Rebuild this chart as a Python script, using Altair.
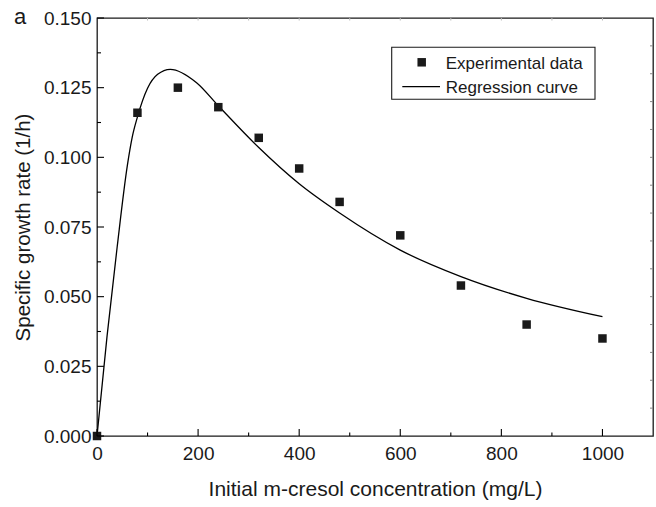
import altair as alt
import pandas as pd

# ---- data ----
conc = [0, 80, 160, 240, 320, 400, 480, 600, 720, 850, 1000]
rate = [0.0, 0.116, 0.125, 0.118, 0.107, 0.096, 0.084, 0.072, 0.054, 0.040, 0.035]

curve_x = [0, 20, 40, 60, 70, 80, 100, 120, 145, 197, 240, 320, 400, 480,
           600, 720, 850, 1000]
curve_y = [0.0, 0.036, 0.068, 0.097, 0.1075, 0.1145, 0.1248, 0.1298, 0.1316,
           0.1268, 0.1185, 0.1035, 0.0905, 0.0800, 0.0667, 0.0572, 0.0494,
           0.0428]

x_major = [0, 200, 400, 600, 800, 1000]
x_minor = [100, 300, 500, 700, 900]
x_top = [100, 200, 300, 400, 500, 600, 700, 800, 900, 1000]
y_major = [0.0, 0.025, 0.05, 0.075, 0.1, 0.125, 0.15]
y_minor = [0.0125, 0.0375, 0.0625, 0.0875, 0.1125, 0.1375]
y_right = [0.01, 0.02, 0.03, 0.04, 0.05, 0.06, 0.07, 0.08, 0.09, 0.10,
           0.11, 0.12, 0.13, 0.14]

legend_labels = ["Experimental data", "Regression curve"]
x_title = "Initial m-cresol concentration (mg/L)"
y_title = "Specific growth rate (1/h)"
panel_label = "a"

W, H = 556, 418
FONT = "Liberation Sans"
INK = "#1a1a1a"

xs = alt.Scale(domain=[0, 1100], nice=False, zero=False)
ys = alt.Scale(domain=[0, 0.15], nice=False, zero=False)

x_axis = alt.Axis(values=x_major, format="d", title=x_title, ticks=False,
                  domain=False, grid=False, labelFlush=False,
                  labelFontSize=19, labelPadding=8,
                  titleFontSize=21, titleFontWeight="normal", titlePadding=15,
                  labelFont=FONT, titleFont=FONT, labelColor=INK,
                  titleColor=INK)
y_axis = alt.Axis(values=y_major, format=".3f", title=y_title, ticks=False,
                  domain=False, grid=False, labelFlush=False,
                  labelFontSize=19, labelPadding=6,
                  titleFontSize=20.5, titleFontWeight="normal", titlePadding=10,
                  labelFont=FONT, titleFont=FONT, labelColor=INK,
                  titleColor=INK)

pts = pd.DataFrame({"c": conc, "r": rate})
crv = pd.DataFrame({"c": curve_x, "r": curve_y})

line = alt.Chart(crv).mark_line(color="black", strokeWidth=1.3,
                                interpolate="monotone").encode(
    x=alt.X("c:Q", scale=xs, axis=x_axis),
    y=alt.Y("r:Q", scale=ys, axis=y_axis),
)

points = alt.Chart(pts).mark_square(size=72, color=INK, opacity=1).encode(
    x=alt.X("c:Q", scale=xs, axis=x_axis), y=alt.Y("r:Q", scale=ys, axis=y_axis))


def vticks(vals, y0, y1, color="black", w=1.1):
    return alt.Chart(pd.DataFrame({"c": vals})).mark_rule(
        color=color, strokeWidth=w).encode(
        x=alt.X("c:Q", scale=xs, axis=x_axis), y=alt.value(y0), y2=alt.value(y1))


def hticks(vals, x0, x1, color="black", w=1.1):
    return alt.Chart(pd.DataFrame({"r": vals})).mark_rule(
        color=color, strokeWidth=w).encode(
        y=alt.Y("r:Q", scale=ys, axis=y_axis), x=alt.value(x0), x2=alt.value(x1))


ticks = [
    vticks(x_major, H, H - 7),
    vticks(x_minor, H, H - 3.5),
    vticks(x_top, 0, 2.5, color="#bbbbbb", w=1),
    hticks(y_major, 0, 7),
    hticks(y_minor, 0, 4),
    hticks(y_right, W, W - 3, color="#888888", w=1),
]

one = pd.DataFrame({"k": [0]})
lx0, lx1, ly0, ly1 = 294.7, 498, 29.3, 81.3
leg_box = alt.Chart(one).mark_rect(fill="white", stroke=INK,
                                   strokeWidth=1.1).encode(
    x=alt.value(lx0), x2=alt.value(lx1), y=alt.value(ly0), y2=alt.value(ly1))
leg_sq = alt.Chart(one).mark_square(size=72, color=INK, opacity=1).encode(
    x=alt.value(324.7), y=alt.value(44.3))
leg_ln = alt.Chart(one).mark_rule(color="black", strokeWidth=1.2).encode(
    x=alt.value(305.3), x2=alt.value(343), y=alt.value(68.7))
leg_t1 = alt.Chart(one).mark_text(align="left", baseline="alphabetic",
                                  fontSize=17, font=FONT, color=INK).encode(
    x=alt.value(348.7), y=alt.value(50.5), text=alt.value(legend_labels[0]))
leg_t2 = alt.Chart(one).mark_text(align="left", baseline="alphabetic",
                                  fontSize=17, font=FONT, color=INK).encode(
    x=alt.value(348.7), y=alt.value(74.8), text=alt.value(legend_labels[1]))

lab = alt.Chart(one).mark_text(align="left", baseline="alphabetic",
                               fontSize=22, font=FONT, color=INK).encode(
    x=alt.value(-83), y=alt.value(6), text=alt.value(panel_label))

chart = alt.layer(line, points, *ticks, leg_box, leg_sq, leg_ln, leg_t1,
                  leg_t2, lab).properties(
    width=W, height=H,
    autosize=alt.AutoSizeParams(type="none"),
    padding={"left": 97, "top": 18, "right": 3, "bottom": 71},
    background="white",
).configure_view(stroke=INK, strokeWidth=1.3)

chart.save("out.html", embed_options={"renderer": "svg", "actions": False})
